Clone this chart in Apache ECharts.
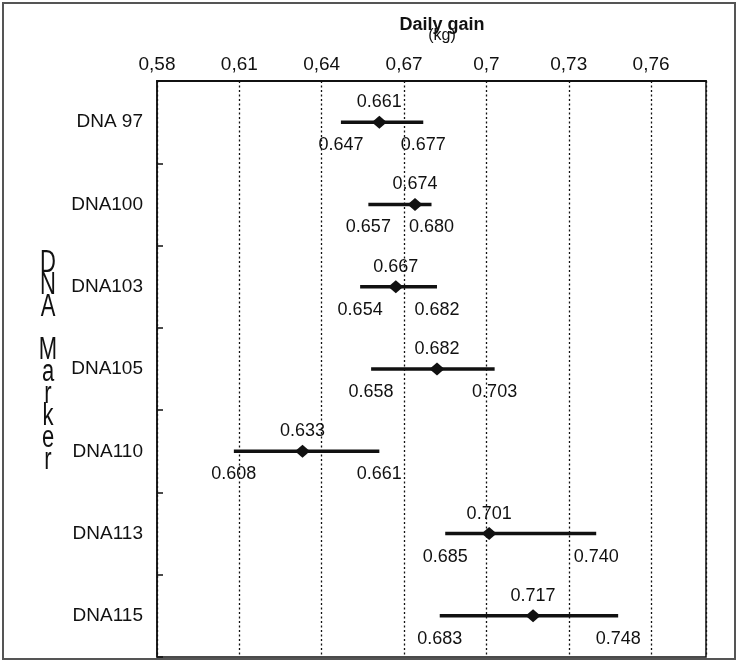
<!DOCTYPE html>
<html>
<head>
<meta charset="utf-8">
<script src="https://cdn.jsdelivr.net/npm/echarts@6/dist/echarts.min.js"></script>
<style>
  html, body { margin: 0; padding: 0; background: #fff; }
  #chart { width: 738px; height: 663px; }
</style>
</head>
<body>
<div id="chart"></div>
<script>
// markers, top to bottom
const markers = ['DNA 97', 'DNA100', 'DNA103', 'DNA105', 'DNA110', 'DNA113', 'DNA115'];
const means  = [0.661, 0.674, 0.667, 0.682, 0.633, 0.701, 0.717];
const lowers = [0.647, 0.657, 0.654, 0.658, 0.608, 0.685, 0.683];
const uppers = [0.677, 0.680, 0.682, 0.703, 0.661, 0.740, 0.748];
const xTicks = [0.58, 0.61, 0.64, 0.67, 0.70, 0.73, 0.76];

const FONT = '"Liberation Sans", Arial, sans-serif';
const INK = '#111';

let rows = markers.map((m, i) => [i, means[i], lowers[i], uppers[i]]);

let chart = echarts.init(document.getElementById('chart'));

function renderBar(params, api) {
  let i = api.value(0);
  let c = api.coord([api.value(1), i]);
  let lo = api.coord([api.value(2), i]);
  let hi = api.coord([api.value(3), i]);
  let y = c[1];
  let txt = (x, yy, v) => ({
    type: 'text',
    style: {
      x: x, y: yy, text: v.toFixed(3),
      fill: INK, font: '18px ' + FONT,
      align: 'center', verticalAlign: 'middle'
    }
  });
  return {
    type: 'group',
    children: [
      { type: 'line', shape: { x1: lo[0], y1: y, x2: hi[0], y2: y },
        style: { stroke: INK, lineWidth: 3.5 } },
      { type: 'polygon',
        shape: { points: [[c[0], y - 6.5], [c[0] + 7.5, y], [c[0], y + 6.5], [c[0] - 7.5, y]] },
        style: { fill: INK } },
      txt(c[0], y - 20, api.value(1)),
      txt(lo[0], y + 23, api.value(2)),
      txt(hi[0], y + 23, api.value(3))
    ]
  };
}

let options = {
  animation: false,
  title: {
    text: 'Daily gain',
    subtext: '(kg)',
    left: 437,
    top: 11,
    textAlign: 'center',
    itemGap: -6,
    textStyle: { fontFamily: FONT, fontSize: 18, fontWeight: 'bold', color: INK },
    subtextStyle: { fontFamily: FONT, fontSize: 16, color: INK }
  },
  grid: {
    left: 157, right: 32, top: 81, bottom: 6,
    show: true, borderColor: INK, borderWidth: 1.5
  },
  xAxis: {
    type: 'value',
    position: 'top',
    min: xTicks[0],
    max: 0.78,
    interval: 0.03,
    axisLine: { show: true, lineStyle: { color: INK, width: 2 } },
    axisTick: { show: false },
    axisLabel: {
      margin: 7,
      fontFamily: FONT, fontSize: 19, color: INK,
      showMaxLabel: false,
      formatter: v => xTicks.some(t => Math.abs(t - v) < 1e-6)
        ? String(parseFloat(v.toFixed(2))).replace('.', ',') : ''
    },
    splitLine: { show: true, lineStyle: { color: INK, type: [2, 2.5], width: 1.3 } }
  },
  yAxis: {
    type: 'category',
    inverse: true,
    data: markers,
    axisLine: { show: true, lineStyle: { color: INK, width: 1.5 } },
    axisTick: { show: true, inside: true, length: 6, lineStyle: { color: INK, width: 1.5 } },
    axisLabel: { margin: 14, fontFamily: FONT, fontSize: 19, color: INK },
    splitLine: { show: false }
  },
  graphic: [
    { type: 'rect', shape: { x: 3, y: 3, width: 732, height: 656 },
      style: { fill: 'none', stroke: '#555', lineWidth: 2 } },
    { type: 'text', x: 48, y: 362, scaleY: 1.4,
      style: {
        text: 'D\nN\nA\n\nM\na\nr\nk\ne\nr',
        font: '22px ' + FONT, fill: INK,
        lineHeight: 15.7, align: 'center', verticalAlign: 'middle'
      } }
  ],
  series: [{
    type: 'custom',
    renderItem: renderBar,
    encode: { x: [1, 2, 3], y: 0 },
    data: rows
  }]
};

chart.setOption(options);
</script>
</body>
</html>
